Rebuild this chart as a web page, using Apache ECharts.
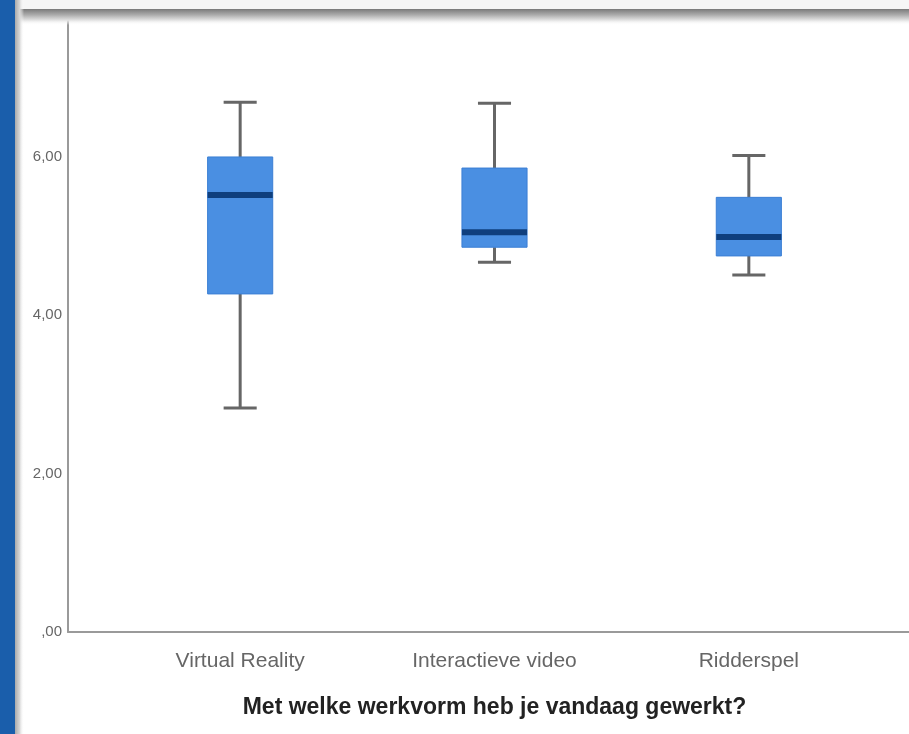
<!DOCTYPE html>
<html>
<head>
<meta charset="utf-8">
<script src="https://cdn.jsdelivr.net/npm/echarts@6/dist/echarts.min.js"></script>
<style>
  html, body { margin: 0; padding: 0; background: #ffffff; }
  #chart { width: 909px; height: 734px; }
</style>
</head>
<body>
<div id="chart"></div>
<script>
// ---- Data ----
var categories   = ['Virtual Reality', 'Interactieve video', 'Ridderspel'];
var lowWhisker   = [2.83, 4.67, 4.51];
var quartile1    = [4.27, 4.86, 4.75];
var medians      = [5.52, 5.05, 4.99];
var quartile3    = [6.00, 5.86, 5.49];
var highWhisker  = [6.69, 6.68, 6.02];
var yTickValues  = [0, 2, 4, 6];
var yTickLabels  = [',00', '2,00', '4,00', '6,00'];
var xAxisTitle   = 'Met welke werkvorm heb je vandaag gewerkt?';

// ---- Build series data from arrays ----
var boxData = categories.map(function (c, i) {
  return [i, lowWhisker[i], quartile1[i], medians[i], quartile3[i], highWhisker[i]];
});

var Y_MIN = 0, Y_MAX = 7.73;
var FONT = '"Liberation Sans", Arial, sans-serif';

function renderBox(params, api) {
  var x = api.value(0);
  var lo = api.coord([x, api.value(1)]);
  var q1 = api.coord([x, api.value(2)]);
  var md = api.coord([x, api.value(3)]);
  var q3 = api.coord([x, api.value(4)]);
  var hi = api.coord([x, api.value(5)]);
  var band = api.size([1, 0])[0];
  var bw = band * 0.256;
  var cw = band * 0.13;
  var cx = lo[0];
  var whiskerStyle = { stroke: '#666666', lineWidth: 3 };
  return {
    type: 'group',
    children: [
      { type: 'line', shape: { x1: cx, y1: hi[1], x2: cx, y2: q3[1] }, style: whiskerStyle },
      { type: 'line', shape: { x1: cx, y1: q1[1], x2: cx, y2: lo[1] }, style: whiskerStyle },
      { type: 'line', shape: { x1: cx - cw / 2, y1: hi[1], x2: cx + cw / 2, y2: hi[1] }, style: whiskerStyle },
      { type: 'line', shape: { x1: cx - cw / 2, y1: lo[1], x2: cx + cw / 2, y2: lo[1] }, style: whiskerStyle },
      { type: 'rect', shape: { x: cx - bw / 2, y: q3[1], width: bw, height: q1[1] - q3[1] },
        style: { fill: '#4a8fe2', stroke: '#3b7fd4', lineWidth: 1 } },
      { type: 'line', shape: { x1: cx - bw / 2, y1: md[1], x2: cx + bw / 2, y2: md[1] },
        style: { stroke: '#0f3f7e', lineWidth: 6 } }
    ]
  };
}

var chart = echarts.init(document.getElementById('chart'), null, { renderer: 'canvas' });

chart.setOption({
  backgroundColor: '#ffffff',
  animation: false,
  graphic: [
    { type: 'rect', left: 0, top: 0, shape: { width: 909, height: 9 }, style: { fill: '#f6f6f6' }, z: 10 },
    { type: 'rect', left: 0, top: 9, shape: { width: 909, height: 16 },
      style: { fill: new echarts.graphic.LinearGradient(0, 0, 0, 1, [
        { offset: 0, color: '#7a7a7a' }, { offset: 0.35, color: '#a9a9a9' },
        { offset: 0.7, color: '#e2e2e2' }, { offset: 1, color: 'rgba(255,255,255,0)' }
      ]) }, z: 10 },
    { type: 'rect', left: 15, top: 0, shape: { width: 9, height: 734 },
      style: { fill: new echarts.graphic.LinearGradient(0, 0, 1, 0, [
        { offset: 0, color: '#aaaaaa' }, { offset: 0.5, color: '#d5d5d5' }, { offset: 1, color: 'rgba(255,255,255,0)' }
      ]) }, z: 11 },
    { type: 'rect', left: 0, top: 0, shape: { width: 15, height: 734 }, style: { fill: '#1a5eab' }, z: 12 }
  ],
  grid: [
    { left: 68, right: 0, top: 20, bottom: 102, containLabel: false },
    { left: 113, right: 33, top: 20, bottom: 102, containLabel: false }
  ],
  xAxis: [
    { gridIndex: 0, type: 'value', min: 0, max: 1,
      axisLine: { show: true, lineStyle: { color: '#9a9a9a', width: 2 } },
      axisTick: { show: false }, axisLabel: { show: false }, splitLine: { show: false } },
    { gridIndex: 1, type: 'category', data: categories,
      axisLine: { show: false }, axisTick: { show: false }, splitLine: { show: false },
      axisLabel: { color: '#666666', fontFamily: FONT, fontSize: 21, margin: 19 },
      name: xAxisTitle, nameLocation: 'middle', nameGap: 64,
      nameTextStyle: { color: '#222222', fontFamily: FONT, fontSize: 23, fontWeight: 'bold' } }
  ],
  yAxis: [
    { gridIndex: 0, type: 'value', min: Y_MIN, max: Y_MAX, interval: 2,
      axisLine: { show: true, lineStyle: { color: '#9a9a9a', width: 2 } },
      axisTick: { show: false }, splitLine: { show: false },
      axisLabel: { color: '#666666', fontFamily: FONT, fontSize: 15, margin: 6,
        formatter: function (v) {
          var idx = yTickValues.indexOf(v);
          return idx >= 0 ? yTickLabels[idx] : '';
        } } },
    { gridIndex: 1, type: 'value', min: Y_MIN, max: Y_MAX, show: false }
  ],
  series: [
    { type: 'custom', xAxisIndex: 1, yAxisIndex: 1, renderItem: renderBox,
      encode: { x: 0, y: [1, 2, 3, 4, 5] }, data: boxData, z: 5 }
  ]
});
</script>
</body>
</html>
